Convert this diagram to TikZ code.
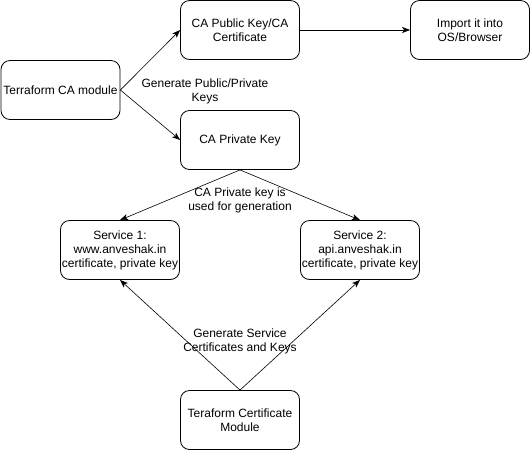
\documentclass[tikz,border=0pt]{standalone}
\usepackage{fontspec}
\setmainfont{Liberation Sans}
\usetikzlibrary{arrows.meta}

\begin{document}
\begin{tikzpicture}[x=1pt, y=-1pt,
		box/.style={draw, line width=0.8pt, rounded corners=9pt, minimum width=119pt, minimum height=59pt, inner sep=1pt, align=center, font=\fontsize{12}{14}\selectfont},
		arr/.style={-{Stealth[length=8pt, width=6pt, inset=2pt]}, line width=0.6pt},
		lbl/.style={align=center, font=\fontsize{12}{14}\selectfont, inner sep=0pt}]
		\useasboundingbox (0,0) rectangle (531,451);

		\node[box] (caMod) at (60.5,90) {Terraform CA module};
		\node[box] (caPub) at (240,30) {CA Public Key/CA\\Certificate};
		\node[box] (caPriv) at (240,140) {CA Private Key};
		\node[box] (osImport) at (470,30) {Import it into\\OS/Browser};
		\node[box] (svcOne) at (120,250) {Service 1:\\www.anveshak.in\\certificate, private key};
		\node[box] (svcTwo) at (360,250) {Service 2:\\api.anveshak.in\\certificate, private key};
		\node[box] (certMod) at (240,420) {Teraform Certificate\\Module};

		\draw[arr] (caMod.east) -- (caPub.west);
		\draw[arr] (caMod.east) -- (caPriv.west);
		\draw[arr] (caPub.east) -- (osImport.west);
		\draw[arr] (caPriv.south) -- (svcOne.north);
		\draw[arr] (caPriv.south) -- (svcTwo.north);
		\draw[arr] (certMod.north) -- (svcOne.south);
		\draw[arr] (certMod.north) -- (svcTwo.south);

		\node[lbl] (lblKeys) at (205,91) {Generate Public/Private\\Keys}; % edge labels
		\node[lbl] (lblUsed) at (240,200) {CA Private key is\\used for generation};
		\node[lbl] (lblSvc) at (240,341) {Generate Service\\Certificates and Keys};
	\end{tikzpicture}
\end{document}
